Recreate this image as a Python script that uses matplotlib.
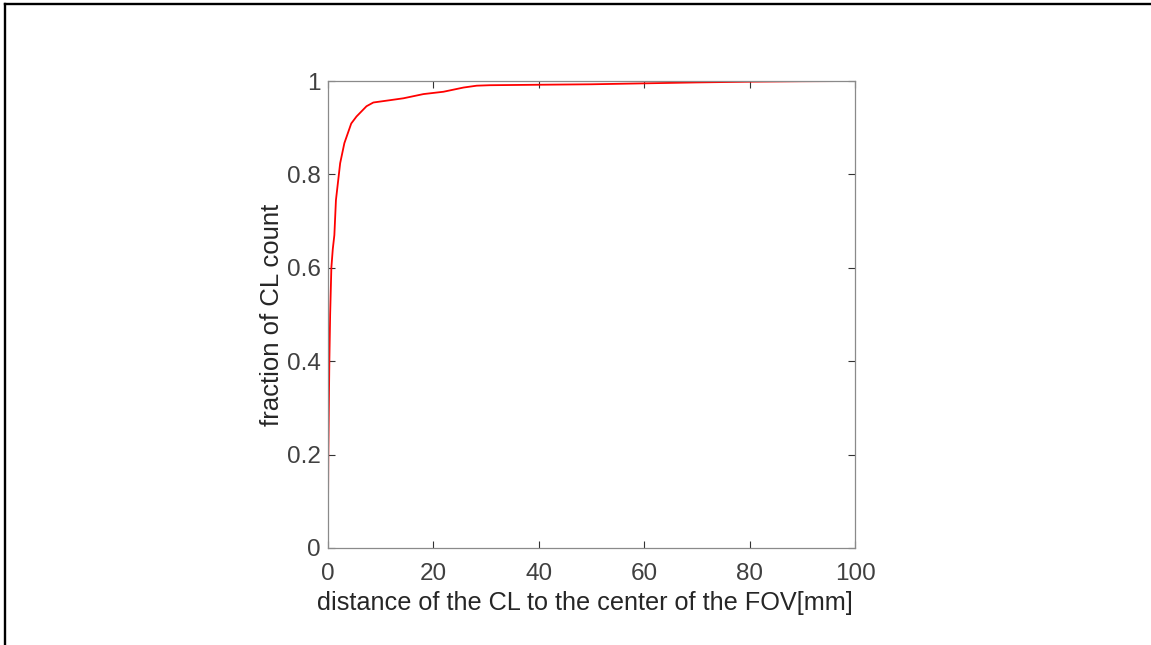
import matplotlib
matplotlib.use("Agg")
import matplotlib.pyplot as plt
from matplotlib.lines import Line2D

# distance of the CL to the FOV center [mm] and cumulative fraction
distance_mm = [0, 0.05, 0.15, 0.25, 0.4, 0.63, 0.9, 1.2, 1.5, 2.3, 3.1, 4.4, 5.4, 7.3,
               8.6, 11.8, 14.3, 18.1, 21.9, 25.7, 28.2, 30.7, 40, 50, 60, 70, 80, 90, 100]
fraction = [0.086, 0.2, 0.3, 0.4, 0.5, 0.6, 0.64, 0.67, 0.745, 0.824, 0.867, 0.909, 0.924,
            0.946, 0.954, 0.959, 0.963, 0.972, 0.977, 0.986, 0.990, 0.991, 0.992, 0.993,
            0.995, 0.997, 0.9985, 0.9995, 1.0]

x_ticks = [0, 20, 40, 60, 80, 100]
y_ticks = [0, 0.2, 0.4, 0.6, 0.8, 1.0]
y_tick_labels = ["0", "0.2", "0.4", "0.6", "0.8", "1"]

plt.rcParams["font.family"] = ["Liberation Sans", "DejaVu Sans"]

fig = plt.figure(figsize=(11.51, 6.45), dpi=100)
ax = fig.add_axes([0.285, 0.1504, 0.4579, 0.724])

ax.plot(distance_mm, fraction, color="#ff0000", linewidth=1.3)

ax.set_xlim(0, 100)
ax.set_ylim(0, 1)
ax.set_xticks(x_ticks)
ax.set_yticks(y_ticks)
ax.set_yticklabels(y_tick_labels)

text_color = "#262626"
for side in ["left", "right", "top", "bottom"]:
    ax.spines[side].set_color("#8a8a8a")
    ax.spines[side].set_linewidth(0.9)
ax.tick_params(direction="in", length=5, width=0.8, color="#333333",
               labelcolor="#404040", labelsize=17.5, top=True, right=True)
ax.tick_params(axis="y", pad=5.5)
ax.tick_params(axis="x", pad=10.5)

ax.set_xlabel("distance of the CL to the center of the FOV[mm]", fontsize=18.2,
              color=text_color)
ax.xaxis.set_label_coords(0.487, -0.092)
ax.set_ylabel("fraction of CL count", fontsize=18.5, color=text_color, labelpad=1.5)

# black frame on the left and top edges of the picture
fig.add_artist(Line2D([5 / 1151, 5 / 1151], [0, 1 - 4 / 645], transform=fig.transFigure,
                      color="black", linewidth=1.7))
fig.add_artist(Line2D([5 / 1151, 1], [1 - 4 / 645, 1 - 4 / 645], transform=fig.transFigure,
                      color="black", linewidth=1.7))

fig.savefig("out.png", dpi=100)
